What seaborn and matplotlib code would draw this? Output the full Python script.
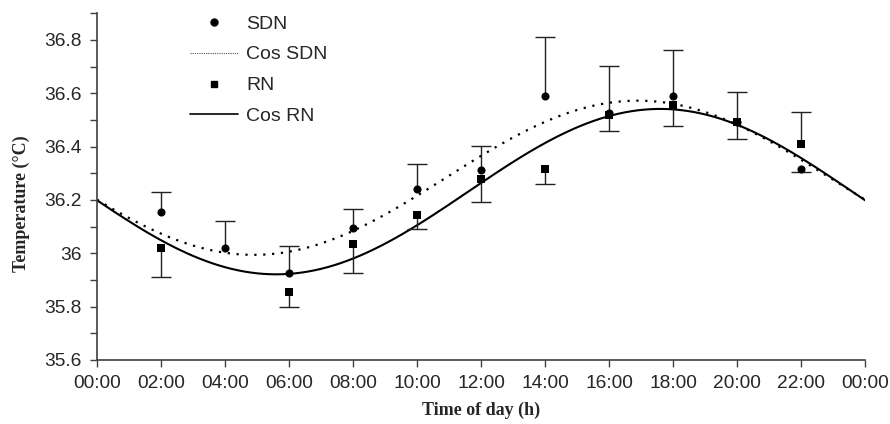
import matplotlib
matplotlib.use("Agg")
import matplotlib.pyplot as plt
from matplotlib.ticker import MultipleLocator, FormatStrFormatter
from matplotlib.lines import Line2D
import numpy as np
import pandas as pd
import seaborn as sns

# measured points (hour of day)
hours = [2, 4, 6, 8, 10, 12, 14, 16, 18, 20, 22]
sdn = [36.156, 36.019, 35.927, 36.094, 36.240, 36.311, 36.589, 36.527, 36.589, 36.492, 36.315]
sdn_err_lo = [0, 0, 0, 0, 0, 0, 0, 0, 0, 0, 0.01]
sdn_err_hi = [0.075, 0.101, 0.102, 0.072, 0.095, 0.091, 0.220, 0.176, 0.171, 0.113, 0]
rn = [36.019, np.nan, 35.854, 36.034, 36.145, 36.279, 36.316, 36.519, 36.555, 36.492, 36.410]
rn_err_lo = [0.107, 0, 0.054, 0.107, 0.054, 0.085, 0.055, 0.060, 0.078, 0.064, 0]
rn_err_hi = [0, 0, 0, 0, 0, 0, 0, 0, 0, 0, 0.119]

# cosinor fits: mesor, amplitude, acrophase (h)
sdn_mesor, sdn_amp, sdn_acro = 36.283, 0.289, 16.9
rn_mesor, rn_amp, rn_acro = 36.231, 0.310, 17.6

xtick_labels = ["00:00", "02:00", "04:00", "06:00", "08:00", "10:00", "12:00",
                "14:00", "16:00", "18:00", "20:00", "22:00", "00:00"]

t = np.linspace(0, 24, 241)
curves = pd.DataFrame({
    "t": t,
    "cos_sdn": sdn_mesor + sdn_amp * np.cos(2 * np.pi * (t - sdn_acro) / 24),
    "cos_rn": rn_mesor + rn_amp * np.cos(2 * np.pi * (t - rn_acro) / 24),
})
pts = pd.DataFrame({"h": hours, "sdn": sdn, "rn": rn})

sns.set_style("ticks")
plt.rcParams["font.family"] = ["Liberation Sans", "DejaVu Sans"]

fig, ax = plt.subplots(figsize=(8.9, 4.24), dpi=100)
fig.subplots_adjust(left=0.109, right=0.972, top=0.969, bottom=0.151)

sns.lineplot(data=curves, x="t", y="cos_sdn", ax=ax, color="black", lw=1.6,
             linestyle=(0, (1, 3)), zorder=2)
sns.lineplot(data=curves, x="t", y="cos_rn", ax=ax, color="black", lw=1.5, zorder=2)


def one_sided(x, y, lo, hi):
    # draw bars only on the side that has a value, cap only at the far end
    x = np.asarray(x, float)
    y = np.asarray(y, float)
    lo = np.asarray(lo, float)
    hi = np.asarray(hi, float)
    up = (hi > 0) & ~np.isnan(y)
    dn = (lo > 0) & ~np.isnan(y)
    kw = dict(fmt="none", ecolor="#222222", elinewidth=1, capsize=7, capthick=1, zorder=3)
    if up.any():
        _, caps, _ = ax.errorbar(x[up], y[up], yerr=[np.zeros(up.sum()), hi[up]], **kw)
        caps[0].set_visible(False)
    if dn.any():
        _, caps, _ = ax.errorbar(x[dn], y[dn], yerr=[lo[dn], np.zeros(dn.sum())], **kw)
        caps[1].set_visible(False)


one_sided(hours, sdn, sdn_err_lo, sdn_err_hi)
one_sided(hours, rn, rn_err_lo, rn_err_hi)

sns.scatterplot(data=pts, x="h", y="rn", ax=ax, marker="s", color="black", s=30,
                edgecolor="black", linewidth=0, zorder=4)
sns.scatterplot(data=pts, x="h", y="sdn", ax=ax, marker="o", color="black", s=34,
                edgecolor="black", linewidth=0, zorder=5)

ax.set_xlim(0, 24)
ax.set_ylim(35.6, 36.9)
ax.set_xticks(range(0, 25, 2))
ax.set_xticklabels(xtick_labels)
ax.yaxis.set_major_locator(MultipleLocator(0.2))
ax.yaxis.set_minor_locator(MultipleLocator(0.1))
ax.yaxis.set_major_formatter(FormatStrFormatter("%g"))
ax.tick_params(axis="both", which="major", labelsize=13.8, length=5, width=1,
               color="#404040", direction="out")
ax.tick_params(axis="y", which="minor", length=5, width=1, color="#404040", direction="out")
ax.tick_params(axis="y", pad=6)
ax.tick_params(axis="x", pad=6)

sns.despine(ax=ax)
for s in ["left", "bottom"]:
    ax.spines[s].set_color("#404040")
    ax.spines[s].set_linewidth(1.2)

ax.set_xlabel("Time of day (h)", family=["Liberation Serif", "DejaVu Serif"],
              fontweight="bold", fontsize=13, labelpad=7)
ax.set_ylabel("Temperature (\u00b0C)", family=["Liberation Serif", "DejaVu Serif"],
              fontweight="bold", fontsize=13)
ax.yaxis.set_label_coords(-0.087, 0.45)

handles = [
    Line2D([], [], marker="o", color="black", linestyle="none", markersize=5),
    Line2D([], [], color="#555555", lw=0.8, linestyle=(0, (1, 1))),
    Line2D([], [], marker="s", color="black", linestyle="none", markersize=5),
    Line2D([], [], color="black", lw=1.2),
]
ax.legend(handles, ["SDN", "Cos SDN", "RN", "Cos RN"], loc="upper left",
          bbox_to_anchor=(0.098, 1.045), frameon=False, fontsize=14,
          labelspacing=0.68, handlelength=2.5, handletextpad=0.4)

fig.savefig("out.png", dpi=100)
